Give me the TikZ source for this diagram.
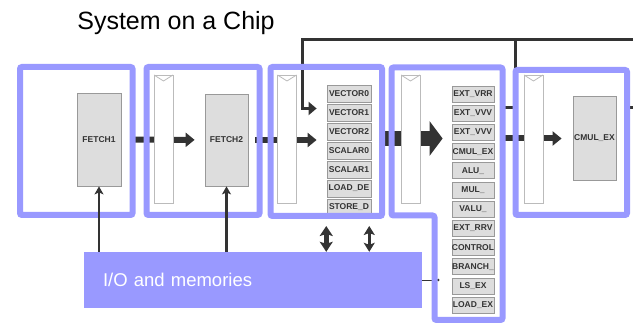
\documentclass[tikz,border=0pt]{standalone}
\usepackage{fontspec}
\setmainfont{Liberation Sans}
\usetikzlibrary{arrows.meta,backgrounds}

\definecolor{socblue}{HTML}{9999FF}
\definecolor{ink}{HTML}{333333}
\definecolor{unitfill}{HTML}{DDDDDD}
\definecolor{unitedge}{HTML}{999999}
\definecolor{regedge}{HTML}{BBBBBB}

\begin{document}
\begin{tikzpicture}[
	x=1pt, y=-1pt,
	stage/.style={draw=socblue, line width=6pt, rounded corners=2pt, inner sep=0pt},
	unit/.style={draw=unitedge, fill=unitfill, line width=0.8pt, inner sep=0pt, text=ink,
		font=\fontsize{8.5}{9}\selectfont\bfseries},
	vslot/.style={unit, minimum width=44pt, minimum height=17pt},
	eslot/.style={unit, minimum width=42pt, minimum height=16pt},
	reg/.style={draw=regedge, fill=white, line width=0.8pt, inner sep=0pt,
		minimum width=19pt, minimum height=128pt,
		path picture={\draw[regedge, line width=0.8pt]
			(path picture bounding box.north west) -- ([yshift=-6pt]path picture bounding box.north)
			-- (path picture bounding box.north east);}},
	iobox/.style={fill=socblue, text=white, font=\fontsize{18.5}{22}\selectfont,
		text width=300pt, align=left, inner xsep=19pt, inner ysep=0pt, minimum height=56pt},
	>=stealth
	]

	\useasboundingbox (0,0) rectangle (633,323);

	%-----------------------
	% Columns and rows
	%-----------------------
	\def\xvec{349}   % decode slots
	\def\xext{473}   % execute slots
	\def\hreg{139}   % pipeline registers

	\node[anchor=base, font=\fontsize{25}{30}\selectfont] (title) at (176,30) {System on a Chip};

	%-----------------------
	% Stage 1 / 2: fetch
	%-----------------------
	\node[unit, minimum width=44pt, minimum height=93pt] (fetch1) at (99,139.5) {FETCH1};
	\node[reg] (r2) at (163.5,\hreg) {};
	\node[unit, minimum width=43pt, minimum height=92pt] (fetch2) at (226.5,140) {FETCH2};

	%-----------------------
	% Stage 3: decode slots
	%-----------------------
	\node[reg] (r3) at (287,\hreg) {};
	\node[vslot] (vec0) at (\xvec, 93.5) {VECTOR0};
	\node[vslot] (vec1) at (\xvec,112.5) {VECTOR1};
	\node[vslot] (vec2) at (\xvec,131.5) {VECTOR2};
	\node[vslot] (sca0) at (\xvec,150.5) {SCALAR0};
	\node[vslot] (sca1) at (\xvec,169.5) {SCALAR1};
	\node[vslot] (ldde) at (\xvec,188.5) {LOAD\_DE};
	\node[vslot] (stde) at (\xvec,207.5) {STORE\_D};

	%-----------------------
	% Stage 4: execute slots
	%-----------------------
	\node[reg] (r4) at (410.5,\hreg) {};
	\node[eslot] (extvrr)  at (\xext, 94.0) {EXT\_VRR};
	\node[eslot] (extvvva) at (\xext,113.2) {EXT\_VVV};
	\node[eslot] (extvvvb) at (\xext,132.4) {EXT\_VVV};
	\node[eslot] (cmulex)  at (\xext,151.6) {CMUL\_EX};
	\node[eslot] (alu)     at (\xext,170.8) {ALU\_};
	\node[eslot] (mul)     at (\xext,190.0) {MUL\_};
	\node[eslot] (valu)    at (\xext,209.2) {VALU\_};
	\node[eslot] (extrrv)  at (\xext,228.4) {EXT\_RRV};
	\node[eslot] (ctrl)    at (\xext,247.6) {CONTROL};
	\node[eslot] (branch)  at (\xext,266.8) {BRANCH\_};
	\node[eslot] (lsex)    at (\xext,286.0) {LS\_EX};
	\node[eslot] (loadex)  at (\xext,305.2) {LOAD\_EX};

	%-----------------------
	% Stage 5: complex multiply
	%-----------------------
	\node[reg] (r5) at (533.5,\hreg) {};
	\node[unit, minimum width=43pt, minimum height=84pt] (cmul5) at (594.5,138) {CMUL\_EX};

	%-----------------------
	% Stage frames
	%-----------------------
	\node[stage, minimum width=112.5pt, minimum height=148pt] (st1) at (76.25,141) {};
	\node[stage, minimum width=113pt,   minimum height=148pt] (st2) at (203,141) {};
	\node[stage, minimum width=111.5pt, minimum height=149pt] (st3) at (326.25,141.5) {};
	\node[stage, minimum width=111.5pt, minimum height=145pt] (st5) at (571.25,142.5) {};

	\coordinate (s4a) at (391.5,67.5);
	\coordinate (s4b) at (502.5,67.5);
	\coordinate (s4c) at (502.5,320);
	\coordinate (s4d) at (434.5,320);
	\coordinate (s4e) at (434.5,215.5);
	\coordinate (s4f) at (391.5,215.5);
	\draw[socblue, line width=6pt, rounded corners=2pt]
		(s4a) -- (s4b) -- (s4c) -- (s4d) -- (s4e) -- (s4f) -- cycle;

	%-----------------------
	% I/O
	%-----------------------
	\node[iobox] (io) at (253,280) {I/O and memories};

	%-----------------------
	% Connections
	%-----------------------
	\tikzset{
		flow/.style={ink, line width=6pt, -{Triangle[length=9pt,width=14pt]}},
		bigflow/.style={ink, line width=15pt, -{Triangle[length=13pt,width=34pt]}},
		wire/.style={ink, line width=3pt},
		upio/.style={ink, line width=2.6pt, -{Stealth[length=8pt,width=9pt,inset=2pt]}}
	}
	\coordinate (bus) at (0,138.5);
	\coordinate (fbk) at (515.5,108);
	\coordinate (ret) at (302.5,40);
	\coordinate (topend) at (633,40);
	\coordinate (outend) at (633,108);

	\begin{scope}[on background layer]
		% pipeline flow (behind registers and frames)
		\draw[flow, shorten <=9pt, shorten >=10pt] (fetch1) -- (fetch2);
		\draw[flow, shorten <=7pt, shorten >=10pt] (fetch2.east) -- (fetch2.east -| vec2.west);
		\draw[bigflow, shorten >=9pt] (st3.east |- bus) -- (extvvvb.west |- bus);
		\draw[flow, shorten <=6pt, shorten >=11pt] (extvvvb.east |- bus) -- (cmul5.west |- bus);

		% write-back loop
		\draw[wire, -{Triangle[length=8pt,width=13pt]}, shorten <=6pt, shorten >=10pt]
			(extvrr.east |- fbk) -- (fbk) |- (ret) |- ([yshift=4pt]vec1.west);
		\draw[wire] (ret) -- (topend);
		\draw[wire] (st5.east |- fbk) -- (outend);

		% side port into execute
		\draw[ink, line width=0.8pt, -{Circle[length=2.5pt]}] (io.east) -- ([xshift=5pt]s4e |- io.east);
	\end{scope}

	% I/O -> fetch
	\draw[upio] (io.north -| fetch1) -- (fetch1);
	\draw[upio] (io.north -| fetch2) -- (fetch2);

	% decode <-> memories
	\draw[ink, line width=4.5pt, {Stealth[length=10pt,width=13pt,inset=2pt]}-{Stealth[length=10pt,width=13pt,inset=2pt]}]
		([yshift=-7pt]st3.south) -- (st3.south |- io.north);
	\draw[ink, line width=2.5pt, {Stealth[length=9pt,width=11pt,inset=2pt]}-{Stealth[length=9pt,width=11pt,inset=2pt]}]
		([xshift=43pt,yshift=-7pt]st3.south) -- ([xshift=43pt]st3.south |- io.north);

\end{tikzpicture}
\end{document}
